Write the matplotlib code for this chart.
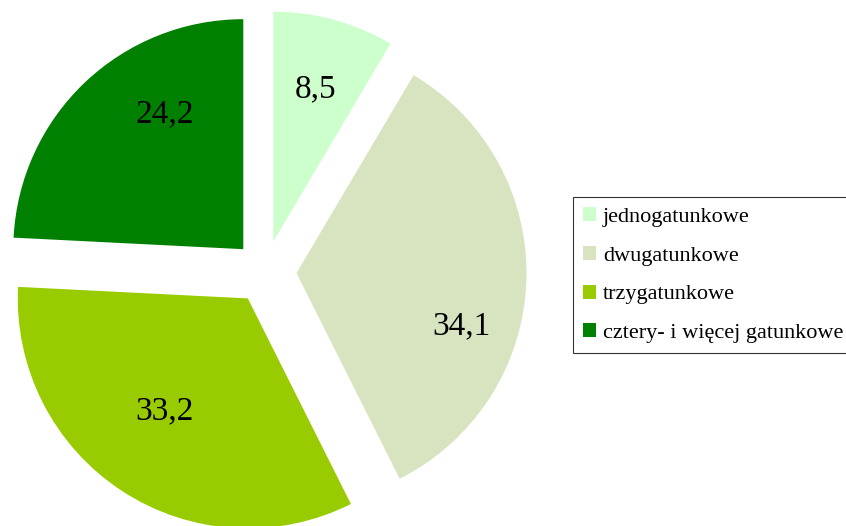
import numpy as np
import matplotlib.pyplot as plt

# dane
kategorie = ['jednogatunkowe', 'dwugatunkowe', 'trzygatunkowe', 'cztery- i więcej gatunkowe']
wartosci = [8.5, 34.1, 33.2, 24.2]
etykiety = ['8,5', '34,1', '33,2', '24,2']
kolory = ['#CCFFCC', '#D8E4C0', '#99CC00', '#008000']

plt.rcParams['font.family'] = ['Liberation Serif', 'DejaVu Serif']

fig = plt.figure(figsize=(8.46, 5.26), dpi=100)
# osie ustawione tak, by środek koła był w (265, 272) px, promień 230 px
ax = fig.add_axes([0.0006, -0.02, 0.6253, 1.0057])

wedges, _ = ax.pie(wartosci, colors=kolory, startangle=90, counterclock=False,
                   explode=[0.137] * 4, radius=1.0, center=(0, 0),
                   wedgeprops=dict(linewidth=0))

# pozycje etykiet (odległość, przesunięcie kąta)
ustaw = [(0.70, 0), (0.75, -15), (0.60, -4), (0.69, -14)]
for w, txt, (d, da) in zip(wedges, etykiety, ustaw):
    kat = np.deg2rad((w.theta1 + w.theta2) / 2)
    cx, cy = w.center
    a = kat + np.deg2rad(da)
    ax.text(cx + d * np.cos(a), cy + d * np.sin(a) - 0.012, txt, ha='center', va='center',
            fontsize=24)

ax.set_xlim(-1.15, 1.15)
ax.set_ylim(-1.15, 1.15)
ax.set_aspect('auto')
ax.axis('off')

leg = fig.legend(wedges, kategorie, loc='upper left', bbox_to_anchor=(573 / 846, 1 - 197 / 526),
                 fontsize=16, frameon=True, fancybox=False, handlelength=0.6, handleheight=0.6,
                 handletextpad=0.3, labelspacing=0.85, borderpad=0.45, borderaxespad=0)
leg.get_frame().set_edgecolor('black')
leg.get_frame().set_linewidth(0.8)

fig.savefig('out.png', dpi=100)
